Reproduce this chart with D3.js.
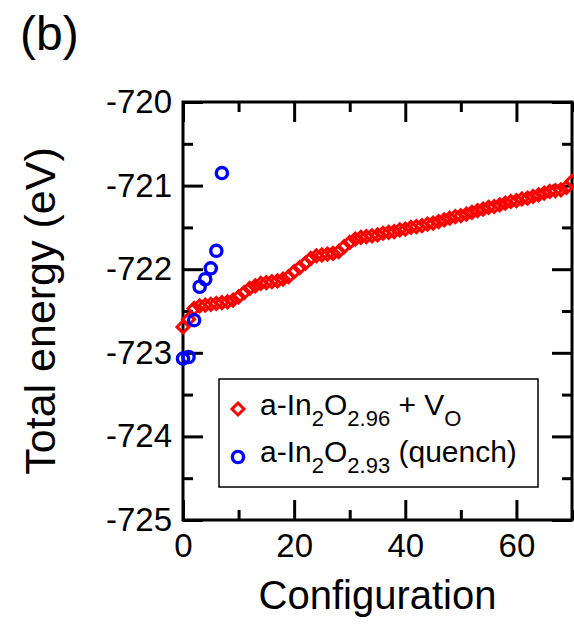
<!DOCTYPE html>
<html><head><meta charset="utf-8">
<script src="https://cdn.jsdelivr.net/npm/d3@7"></script>
<style>
body{margin:0;background:#fff}
svg{display:block}
text{font-family:"Liberation Sans",Arial,Helvetica,sans-serif;fill:#000}
</style>
</head><body><svg id="c" width="574" height="630"></svg>
<script>
// ---- data ----
const vacancyEnergy = [
  -722.69,-722.60,-722.47,-722.44,-722.43,-722.42,-722.41,-722.40,-722.39,-722.37,
  -722.33,-722.28,-722.23,-722.20,-722.17,-722.16,-722.15,-722.14,-722.12,-722.09,
  -722.03,-721.98,-721.93,-721.87,-721.84,-721.83,-721.82,-721.81,-721.79,-721.73,
  -721.68,-721.64,-721.62,-721.61,-721.60,-721.59,-721.57,-721.56,-721.55,-721.53,
  -721.52,-721.50,-721.49,-721.48,-721.46,-721.45,-721.43,-721.41,-721.39,-721.37,
  -721.36,-721.34,-721.32,-721.30,-721.28,-721.26,-721.25,-721.23,-721.21,-721.19,
  -721.18,-721.16,-721.15,-721.13,-721.11,-721.09,-721.07,-721.06,-721.05,-721.02,
  -720.95
];
const quenchEnergy = [-723.07,-723.05,-722.61,-722.21,-722.12,-721.99,-721.78,-720.85];
const xMajorTicks = [0,20,40,60];
const xMinorTicks = [10,30,50,70];
const yMajorTicks = [-725,-724,-723,-722,-721,-720];
const yMinorTicks = [-724.5,-723.5,-722.5,-721.5,-720.5];
const panelLabel = "(b)";
const xLabel = "Configuration";
const yLabel = "Total energy (eV)";
// legend label parts: [text, isSubscript]
const legendVacancy = [["a-In",0],["2",1],["O",0],["2.96",1],[" + V",0],["O",1]];
const legendQuench  = [["a-In",0],["2",1],["O",0],["2.93",1],[" (quench)",0]];

// ---- layout ----
const svg = d3.select("#c");
const m = {l:183, t:102, r:2, b:110};
const W = 574 - m.l - m.r, H = 630 - m.t - m.b;
const x = d3.scaleLinear().domain([0,70]).range([0,W]);
const y = d3.scaleLinear().domain([-725,-720]).range([H,0]);
const g = svg.append("g").attr("transform",`translate(${m.l},${m.t})`);

function styleAxis(sel, showLabels, fs){
  sel.select(".domain").remove();
  sel.selectAll(".tick line").attr("stroke","#000").attr("stroke-width",3);
  sel.selectAll(".tick text").style("font-size",fs+"px").attr("fill","#000");
  if(!showLabels) sel.selectAll(".tick text").remove();
}
// bottom
g.append("g").attr("transform",`translate(0,${H})`)
  .call(d3.axisBottom(x).tickValues(xMajorTicks).tickSize(-20).tickPadding(14).tickFormat(d3.format("d")))
  .call(s=>styleAxis(s,true,33));
g.append("g").attr("transform",`translate(0,${H})`)
  .call(d3.axisBottom(x).tickValues(xMinorTicks).tickSize(-10))
  .call(s=>styleAxis(s,false,33));
// top
g.append("g").call(d3.axisTop(x).tickValues(xMajorTicks).tickSize(-20)).call(s=>styleAxis(s,false,33));
g.append("g").call(d3.axisTop(x).tickValues(xMinorTicks).tickSize(-10)).call(s=>styleAxis(s,false,33));
// left
g.append("g")
  .call(d3.axisLeft(y).tickValues(yMajorTicks).tickSize(-20).tickPadding(11).tickFormat(d3.format("d")))
  .call(s=>styleAxis(s,true,33));
g.selectAll(".tick text").filter(function(){return this.textContent.startsWith("−");})
  .text(function(){return this.textContent.replace("−","-");});
g.append("g").call(d3.axisLeft(y).tickValues(yMinorTicks).tickSize(-10)).call(s=>styleAxis(s,false,33));
// right
g.append("g").attr("transform",`translate(${W},0)`)
  .call(d3.axisRight(y).tickValues(yMajorTicks).tickSize(-20)).call(s=>styleAxis(s,false,33));
g.append("g").attr("transform",`translate(${W},0)`)
  .call(d3.axisRight(y).tickValues(yMinorTicks).tickSize(-10)).call(s=>styleAxis(s,false,33));
// frame
g.append("rect").attr("x",0).attr("y",0).attr("width",W).attr("height",H)
  .attr("fill","none").attr("stroke","#000").attr("stroke-width",3);

// ---- markers ----
const dsz = 6;
const diamond = `M0,${-dsz}L${dsz},0L0,${dsz}L${-dsz},0Z`;
g.append("g").selectAll("path").data(vacancyEnergy).join("path")
  .attr("d",diamond)
  .attr("transform",(d,i)=>`translate(${x(i)},${y(d)})`)
  .attr("fill","none").attr("stroke","#ff0000").attr("stroke-width",3);
g.append("g").selectAll("circle").data(quenchEnergy).join("circle")
  .attr("cx",(d,i)=>x(i)).attr("cy",d=>y(d)).attr("r",5.6)
  .attr("fill","none").attr("stroke","#0000ff").attr("stroke-width",3.4);

// ---- legend ----
const lg = svg.append("g");
lg.append("rect").attr("x",219).attr("y",379).attr("width",319).attr("height",108)
  .attr("fill","#fff").attr("stroke","#000").attr("stroke-width",1.5);
function legendText(parts, bx, by){
  const t = lg.append("text").attr("x",bx).attr("y",by).style("font-size","30px");
  let sub = false;
  parts.forEach(([s,isSub])=>{
    const ts = t.append("tspan").text(s);
    if(isSub && !sub){ ts.attr("dy",11).style("font-size","22px"); sub=true; }
    else if(isSub){ ts.style("font-size","22px"); }
    else if(!isSub && sub){ ts.attr("dy",-11); sub=false; }
  });
}
lg.append("path").attr("d",diamond).attr("transform","translate(238,409)")
  .attr("fill","none").attr("stroke","#ff0000").attr("stroke-width",3);
legendText(legendVacancy, 260, 415);
lg.append("circle").attr("cx",238).attr("cy",457).attr("r",5.6)
  .attr("fill","none").attr("stroke","#0000ff").attr("stroke-width",3.4);
legendText(legendQuench, 260, 462);

// ---- labels ----
svg.append("text").attr("x",m.l+W/2).attr("y",609).attr("text-anchor","middle")
  .style("font-size","40px").text(xLabel);
svg.append("text").attr("transform",`translate(55,${m.t+H/2}) rotate(-90)`)
  .attr("text-anchor","middle").style("font-size","43px").text(yLabel);
svg.append("text").attr("x",20).attr("y",50).style("font-size","48px").text(panelLabel);
</script>
</body></html>
